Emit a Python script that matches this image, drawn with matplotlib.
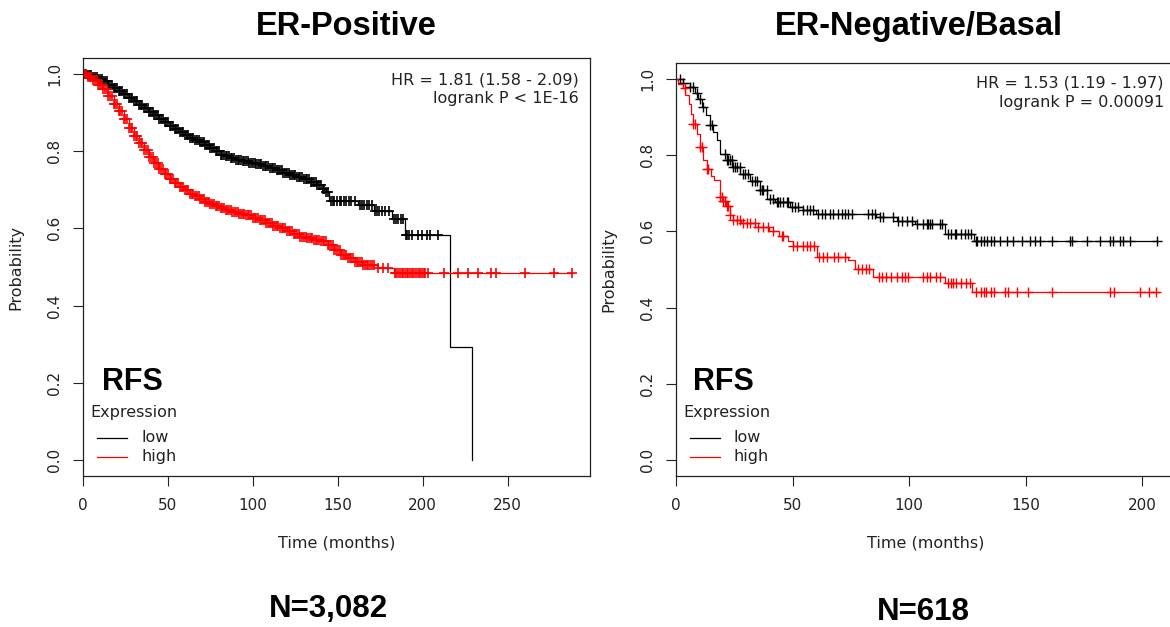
import numpy as np
import matplotlib
matplotlib.use('Agg')
import matplotlib.pyplot as plt
from matplotlib.lines import Line2D

plt.rcParams['font.family'] = 'DejaVu Sans'

W, H = 1170, 627

# ER-positive, low expression: KM steps (months, survival) and censor times
pos_low_t = [0, 3, 6, 9, 12, 15, 18, 21, 24, 27, 30, 33, 36, 39, 42, 45, 48, 51, 54, 57, 60,
             63, 66, 69, 72, 75, 78, 81, 84, 87, 90, 94, 98, 102, 106, 110, 114, 118, 122,
             126, 130, 134, 138, 141, 143, 145, 162, 171, 182, 189.5, 216, 229]
pos_low_s = [1.0, 0.996, 0.991, 0.986, 0.98, 0.972, 0.964, 0.956, 0.947, 0.938, 0.929, 0.92,
             0.911, 0.902, 0.893, 0.884, 0.875, 0.866, 0.857, 0.849, 0.841, 0.835, 0.829,
             0.823, 0.816, 0.808, 0.799, 0.791, 0.786, 0.781, 0.777, 0.773, 0.77, 0.766,
             0.762, 0.756, 0.75, 0.744, 0.738, 0.733, 0.728, 0.72, 0.712, 0.703, 0.694,
             0.672, 0.66, 0.646, 0.625, 0.584, 0.292, 0.0]
pos_low_cens = [0.5, 1, 2, 3, 4, 5, 6, 7, 8, 9, 10, 11, 12, 13, 14, 15, 16, 17, 18, 19, 20,
                21, 22, 23, 24, 25, 26, 27, 28, 29, 30, 31, 32, 33, 34, 35, 36, 37, 38, 39, 40,
                41, 42, 43, 44, 45, 46, 47, 48, 49, 50, 51, 52, 53, 54, 55, 56, 57, 58, 59, 60,
                61, 62, 63, 64, 65, 66, 67, 68, 69, 70, 71, 72, 73, 74, 75, 76, 77, 78, 79, 80,
                81, 82, 83, 84, 85, 86, 87, 88, 89, 90, 91, 92, 93, 94, 95, 96, 97, 98, 99, 100,
                101, 102, 103, 104, 105, 106, 107, 108, 109, 110, 111, 112, 113, 114, 115, 116,
                117, 118, 119, 120, 121, 122, 123, 124, 125, 126, 127, 128, 129, 130, 131, 132,
                133, 134, 135, 136, 137, 138, 139, 140, 141, 142, 143, 144, 146, 147, 148,
                149.5, 151, 152, 153.5, 155, 156.5, 158, 160, 163, 164, 165.5, 167, 168.5,
                170, 172, 173, 174.5, 176, 178, 180, 183, 184, 185.5, 187, 188.5, 190, 191,
                192, 193.5, 197, 199.5, 202.5, 204.5, 209]

# ER-positive, high expression
pos_high_t = [0, 3, 6, 9, 12, 15, 18, 21, 24, 27, 30, 33, 36, 39, 42, 45, 48, 51, 54, 57, 60,
              63, 66, 69, 72, 75, 78, 81, 84, 88, 92, 96, 100, 104, 108, 112, 116, 120, 124,
              128, 132, 136, 140, 144, 148, 152, 156, 160, 165, 173, 183, 288]
pos_high_s = [1.0, 0.992, 0.983, 0.972, 0.96, 0.943, 0.922, 0.903, 0.882, 0.86, 0.84, 0.82,
              0.802, 0.785, 0.768, 0.753, 0.74, 0.728, 0.717, 0.707, 0.698, 0.69, 0.683,
              0.676, 0.669, 0.663, 0.657, 0.652, 0.648, 0.643, 0.638, 0.634, 0.628, 0.621,
              0.614, 0.607, 0.6, 0.593, 0.586, 0.578, 0.574, 0.571, 0.567, 0.556, 0.544,
              0.532, 0.522, 0.513, 0.506, 0.498, 0.485, 0.485]
pos_high_cens = [0.5, 1, 2, 3, 4, 5, 6, 7, 8, 9, 10, 11, 12, 13, 14, 15, 16, 17, 18, 19, 20,
                 21, 22, 23, 24, 25, 26, 27, 28, 29, 30, 31, 32, 33, 34, 35, 36, 37, 38, 39, 40,
                 41, 42, 43, 44, 45, 46, 47, 48, 49, 50, 51, 52, 53, 54, 55, 56, 57, 58, 59, 60,
                 61, 62, 63, 64, 65, 66, 67, 68, 69, 70, 71, 72, 73, 74, 75, 76, 77, 78, 79, 80,
                 81, 82, 83, 84, 85, 86, 87, 88, 89, 90, 91, 92, 93, 94, 95, 96, 97, 98, 99,
                 100, 101, 102, 103, 104, 105, 106, 107, 108, 109, 110, 111, 112, 113, 114, 115,
                 116, 117, 118, 119, 120, 121, 122, 123, 124, 125, 126, 127, 128, 129, 130, 131,
                 132, 133, 134, 135, 136, 137, 138, 139, 140, 141, 142, 143, 144, 145, 146, 147,
                 148, 149, 150, 151, 152, 153, 154, 155, 156, 157, 158, 159, 160, 161, 162, 163,
                 164, 165, 166, 167, 168, 169, 170, 171, 173.7, 176.7, 179.6, 183.5, 184.5,
                 185.5, 186.5, 187.5, 188.5, 189.5, 190.5, 191.5, 192.5, 193.5, 194.5, 195.5,
                 196.5, 197.5, 198.5, 199.5, 200.5, 201.5, 203, 212.5, 220.5, 226.5, 232.5,
                 240, 243, 260, 277, 288]

# ER-negative/basal, low expression
neg_low_t = [0, 3, 6, 8, 9.6, 11, 13, 14.6, 16, 17.5, 19, 21.8, 24, 27.6, 31.8, 36, 39, 42.5,
             49, 54.7, 60, 86, 94.7, 102.6, 115.5, 127.8, 206.2]
neg_low_s = [1.0, 0.988, 0.978, 0.961, 0.947, 0.926, 0.904, 0.878, 0.86, 0.838, 0.803, 0.786,
             0.768, 0.751, 0.733, 0.707, 0.685, 0.676, 0.664, 0.655, 0.646, 0.637, 0.628,
             0.62, 0.594, 0.575, 0.575]
neg_low_cens = [1.8, 3.2, 6.1, 7.5, 8.9, 10.3, 11.8, 14.6, 15.3, 21.1, 21.8, 22.5, 23.2, 23.9,
                24.6, 25.3, 26.1, 27.5, 28.9, 29.6, 31.1, 32.5, 33.9, 34.6, 36.1, 36.8, 37.5,
                38.9, 40.4, 41.8, 43.2, 43.9, 44.7, 46.1, 47.5, 48.2, 49.7, 51.1, 52.5, 54.7,
                56.1, 57.5, 58.9, 61.1, 62.5, 64, 66.1, 67.5, 69.7, 71.1, 72.5, 74, 75.4, 82.5,
                84, 85.4, 87.6, 89, 93.3, 95.4, 96.8, 99, 101.1, 103.3, 106.1, 107.5, 108.2,
                108.9, 109.7, 113.3, 114, 116.7, 118.1, 119.6, 120.3, 122.4, 123.8, 125.3,
                126.7, 128.6, 129.3, 130.7, 132.1, 133.6, 135, 136.4, 139, 141.9, 144.7, 148.3,
                151.9, 154, 156.2, 161.2, 169.1, 169.8, 176.2, 181.9, 186.2, 187.6, 190.5,
                191.9, 194.8, 206.2]

# ER-negative/basal, high expression
neg_high_t = [0, 1, 3, 4, 5.5, 6.5, 7.5, 8.9, 10.3, 11.8, 13.2, 15, 16.5, 18.9, 20, 21.5, 23.2,
              24.6, 28, 34, 40, 44, 48, 50, 60.5, 74, 77, 84.5, 115.5, 126.9, 207]
neg_high_s = [1.0, 0.985, 0.975, 0.956, 0.934, 0.908, 0.882, 0.856, 0.821, 0.786, 0.764, 0.745,
              0.735, 0.69, 0.68, 0.665, 0.642, 0.629, 0.621, 0.611, 0.6, 0.589, 0.575, 0.561,
              0.533, 0.524, 0.502, 0.48, 0.464, 0.441, 0.441]
neg_high_cens = [3.9, 7.5, 8.2, 10.3, 11.1, 13.2, 13.9, 19, 19.6, 20.3, 21.1, 21.8, 22.5, 23.2,
                 24.6, 26.1, 27.5, 28.9, 30.3, 31.8, 33.9, 35.4, 37.5, 39.6, 41.8, 45.4, 46.1,
                 50.4, 52, 54.4, 56, 57.5, 59.1, 61.5, 63.1, 64.7, 67.8, 69.4, 72.6, 78.1, 79.7,
                 81.3, 82.9, 86.9, 88.4, 90, 92.4, 94.8, 96.8, 98.2, 99.7, 106.1, 107.5, 108.9,
                 111.4, 113.3, 116.7, 118.1, 118.8, 120.3, 122.4, 124.6, 126.1, 128.6, 130.7,
                 132.1, 132.8, 135, 136.4, 141.1, 142.5, 146.1, 151.1, 161.1, 186.3, 187.7,
                 199.2, 202.8, 205.7]

titles = ['ER-Positive', 'ER-Negative/Basal']
n_labels = ['N=3,082', 'N=618']
hr_text = [['HR = 1.81 (1.58 - 2.09)', 'logrank P < 1E-16'],
           ['HR = 1.53 (1.19 - 1.97)', 'logrank P = 0.00091']]
pos_xticks = [0, 50, 100, 150, 200, 250]
neg_xticks = [0, 50, 100, 150, 200]
yticks = [0.0, 0.2, 0.4, 0.6, 0.8, 1.0]


def fx(x):
    return x / W


def fy(y):
    return 1 - y / H


def km(ax, t, s, cens, color, mew):
    t = np.asarray(t, float)
    s = np.asarray(s, float)
    ax.plot(t, s, drawstyle='steps-post', color=color, lw=0.9)
    c = np.asarray(cens, float)
    idx = np.searchsorted(t, c, side='right') - 1
    ax.plot(c, s[idx], ls='none', marker='+', ms=7.2, mew=mew, color=color)


fig = plt.figure(figsize=(W / 100, H / 100), dpi=100)

# axes boxes in pixels: left, right, top, bottom
boxes = [(83, 589.6, 58.3, 475.7), (675.9, 1175, 63.3, 475.7)]
xlims = [298.2, 214]
xticks = [pos_xticks, neg_xticks]
curves = [[(pos_low_t, pos_low_s, pos_low_cens), (pos_high_t, pos_high_s, pos_high_cens)],
          [(neg_low_t, neg_low_s, neg_low_cens), (neg_high_t, neg_high_s, neg_high_cens)]]
mark_w = [1.2, 1.0]
title_pos = [(346, 35), (919, 34.5)]
n_pos = [(328, 616.7), (923.4, 620.5)]

for i in range(2):
    l, r, t, b = boxes[i]
    ax = fig.add_axes([fx(l), fy(b), (r - l) / W, (b - t) / H])
    (lt, ls_, lc), (ht, hs, hc) = curves[i]
    km(ax, lt, ls_, lc, 'black', mark_w[i])
    km(ax, ht, hs, hc, 'red', mark_w[i])
    ax.set_xlim(0, xlims[i])
    ax.set_ylim(-0.04, 1.04)
    ax.set_xticks(xticks[i])
    ax.set_yticks(yticks)
    ax.set_yticklabels(['%.1f' % v for v in yticks])
    ax.tick_params(axis='both', direction='out', length=7, width=0.8, labelsize=11,
                   color='#222222', labelcolor='#222222')
    ax.tick_params(axis='y', labelrotation=90, pad=8)
    ax.tick_params(axis='x', pad=9)
    for lab in ax.get_yticklabels():
        lab.set_va('center')
    for sp in ax.spines.values():
        sp.set_linewidth(0.9)
        sp.set_color('#222222')

    fig.text(fx((l + r) / 2), fy(542.5), 'Time (months)', ha='center', va='center',
             fontsize=11.5, color='#222222')
    fig.text(fx(l - 67.5), fy((t + b) / 2), 'Probability', ha='center', va='center',
             rotation=90, fontsize=11.5, color='#222222')

    # HR text
    hr_right = 578.8 if i == 0 else 1164
    hr_y = [80, 99] if i == 0 else [83.3, 102.3]
    for k in range(2):
        fig.text(fx(hr_right), fy(hr_y[k]), hr_text[i][k], ha='right', va='center',
                 fontsize=11.5, color='#222222')

    # RFS label and legend
    rfs_x = 102 if i == 0 else 693
    fig.text(fx(rfs_x), fy(390), 'RFS', ha='left', va='baseline',
             fontsize=22, fontweight='bold', family='Liberation Sans')
    ex_x = 90.4 if i == 0 else 683.3
    fig.text(fx(ex_x), fy(412.7), 'Expression', ha='left', va='center',
             fontsize=11.5, color='#222222')
    line_x = (97.3, 126.9) if i == 0 else (690, 719.6)
    txt_x = 141.5 if i == 0 else 733.7
    for yy, col, name in [(437.7, 'black', 'low'), (456.7, 'red', 'high')]:
        fig.add_artist(Line2D([fx(line_x[0]), fx(line_x[1])], [fy(yy), fy(yy)],
                              color=col, lw=0.9, transform=fig.transFigure))
        fig.text(fx(txt_x), fy(yy), name, ha='left', va='center', fontsize=11.5,
                 color='#222222')

    fig.text(fx(title_pos[i][0]), fy(title_pos[i][1]), titles[i], ha='center',
             va='baseline', fontsize=23.5, fontweight='bold', family='Liberation Sans')
    fig.text(fx(n_pos[i][0]), fy(n_pos[i][1]), n_labels[i], ha='center',
             va='baseline', fontsize=22.5, fontweight='bold', family='Liberation Sans')

fig.savefig('out.png', dpi=100)
